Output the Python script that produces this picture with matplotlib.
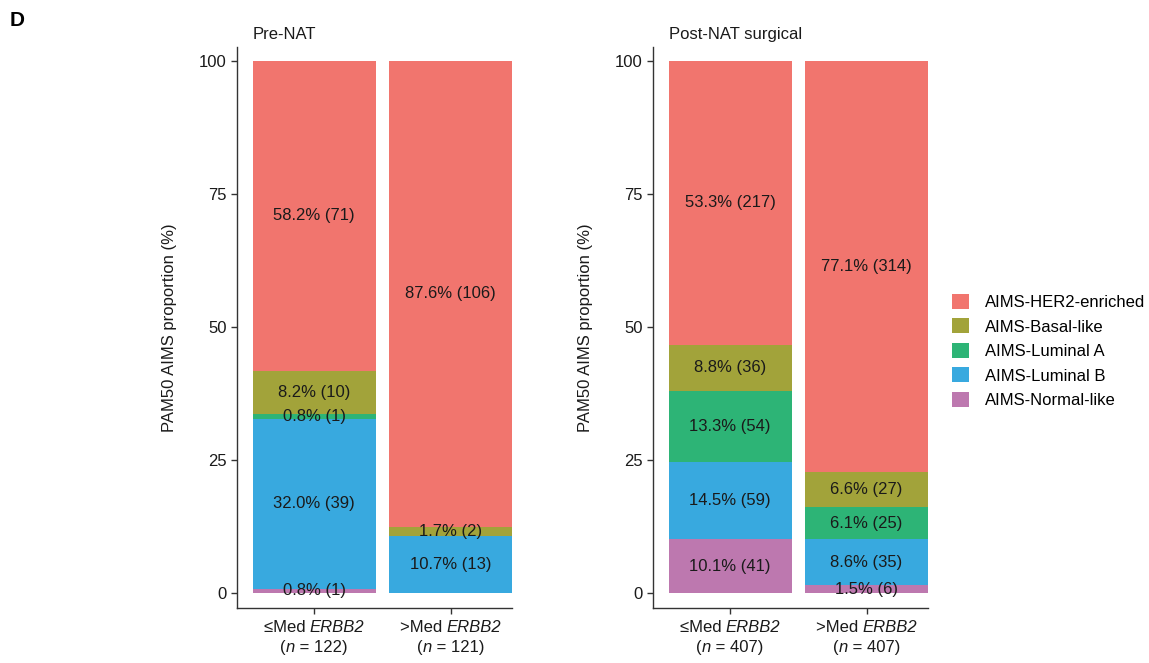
import numpy as np
import matplotlib.pyplot as plt
from matplotlib.patches import Patch
from matplotlib.offsetbox import TextArea, HPacker, VPacker, AnnotationBbox

plt.rcParams['font.family'] = ['Liberation Sans', 'DejaVu Sans']

# subtypes, stacked bottom -> top
subtypes = ['AIMS-Normal-like', 'AIMS-Luminal B', 'AIMS-Luminal A',
            'AIMS-Basal-like', 'AIMS-HER2-enriched']
colors = ['#BD78AF', '#38A9DF', '#2DB476', '#A2A33A', '#F1756E']

groups = ['≤Med', '>Med']
gene = 'ERBB2'

pre_n = [122, 121]
pre_pct = [[0.8, 32.0, 0.8, 8.2, 58.2],
           [0.0, 10.7, 0.0, 1.7, 87.6]]
pre_cnt = [[1, 39, 1, 10, 71],
           [0, 13, 0, 2, 106]]

post_n = [407, 407]
post_pct = [[10.1, 14.5, 13.3, 8.8, 53.3],
            [1.5, 8.6, 6.1, 6.6, 77.1]]
post_cnt = [[41, 59, 54, 36, 217],
            [6, 35, 25, 27, 314]]

W, H = 1149, 663
fig = plt.figure(figsize=(W / 100, H / 100), dpi=100)

spine_col = '#333333'
txt_col = '#1a1a1a'
fs = 12


def part(s, italic=False):
    return TextArea(s, textprops=dict(fontsize=fs, color=txt_col,
                                      fontstyle='italic' if italic else 'normal'))


def xlabel_box(ax, xpos, grp, n):
    # two-line category label with italic gene symbol and n
    line1 = HPacker(children=[part(grp + ' '), part(gene, True)],
                    pad=0, sep=0, align='baseline')
    line2 = HPacker(children=[part('('), part('n', True), part(f' = {n})')],
                    pad=0, sep=0, align='baseline')
    box = VPacker(children=[line1, line2], pad=0, sep=3, align='center')
    ab = AnnotationBbox(box, (xpos, 0), xycoords=('data', 'axes fraction'),
                        xybox=(0, -9), boxcoords='offset points',
                        box_alignment=(0.5, 1), frameon=False)
    ax.add_artist(ab)


def panel(rect, title, pct, cnt, ns):
    ax = fig.add_axes(rect)
    x = np.arange(len(groups))
    width = 0.9
    for g in range(len(groups)):
        bottom = 0.0
        for k in range(len(subtypes)):
            v = pct[g][k]
            if v > 0:
                ax.bar(x[g], v, width, bottom=bottom, color=colors[k],
                       edgecolor='none')
                ax.text(x[g], bottom + v / 2, f'{v:.1f}% ({cnt[g][k]})',
                        ha='center', va='center', fontsize=fs, color=txt_col)
            bottom += v
    ax.set_xlim(-0.565, 1.45)
    ax.set_ylim(-2.8, 102.6)
    ax.set_yticks([0, 25, 50, 75, 100])
    ax.set_xticks(x)
    ax.set_xticklabels([])
    for g in range(len(groups)):
        xlabel_box(ax, x[g], groups[g], ns[g])
    ax.tick_params(labelsize=fs, colors=spine_col, labelcolor=txt_col,
                   length=4, width=1)
    for s in ['top', 'right']:
        ax.spines[s].set_visible(False)
    for s in ['left', 'bottom']:
        ax.spines[s].set_color(spine_col)
        ax.spines[s].set_linewidth(1)
    ax.set_ylabel('PAM50 AIMS proportion (%)', fontsize=fs, color=txt_col,
                  labelpad=16)
    ax.text(x[0] - width / 2, 103.5, title, ha='left', va='bottom',
            fontsize=fs, color=txt_col)
    return ax


panel([237 / W, 1 - 608 / H, 275 / W, 561 / H], 'Pre-NAT',
      pre_pct, pre_cnt, pre_n)
panel([653 / W, 1 - 608 / H, 275 / W, 561 / H], 'Post-NAT surgical',
      post_pct, post_cnt, post_n)

handles = [Patch(facecolor=c, edgecolor='none', label=l)
           for c, l in zip(colors[::-1], subtypes[::-1])]
fig.legend(handles=handles, loc='center left',
           bbox_to_anchor=(937 / W, 1 - 351 / H), frameon=False,
           fontsize=fs, handlelength=1.0, handleheight=1.0,
           labelspacing=0.5, handletextpad=1.0)

fig.text(10 / W, 1 - 20 / H, 'D', fontsize=15, fontweight='bold',
         ha='left', va='center')

fig.savefig('out.png', dpi=100)
